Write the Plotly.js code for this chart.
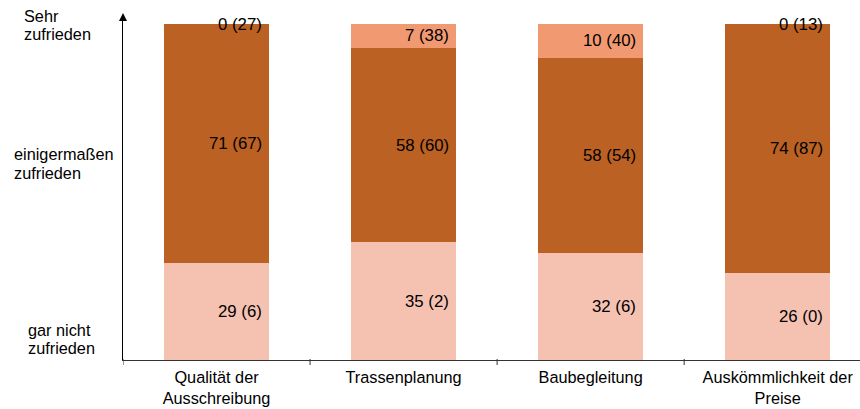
<!DOCTYPE html>
<html>
<head>
<meta charset="utf-8">
<script src="https://cdn.plot.ly/plotly-3.0.1.min.js"></script>
<style>html,body{margin:0;padding:0;background:#fff;}#chart{width:860px;height:409px;}</style>
</head>
<body>
<div id="chart"></div>
<script>
const categories = ["Qualität der<br>Ausschreibung", "Trassenplanung", "Baubegleitung", "Auskömmlichkeit der<br>Preise"];
const garNicht = [29, 35, 32, 26];
const garNichtPrev = [6, 2, 6, 0];
const einigermassen = [71, 58, 58, 74];
const einigermassenPrev = [67, 60, 54, 87];
const sehr = [0, 7, 10, 0];
const sehrPrev = [27, 38, 40, 13];

const colBottom = "#F5C2B2";
const colMid = "#BA6123";
const colTop = "#F19A72";
const FONT = "Liberation Sans, Arial, sans-serif";

const W = 860, H = 409, ML = 123, MR = 0, MT = 15, MB = 49;
const PW = W - ML - MR, PH = H - MT - MB;
const px2x = p => (p - ML) / PW;
const px2y = p => (H - MB - p) / PH;

const idx = categories.map((_, i) => i);
const traces = [
  {type: "bar", x: idx, y: garNicht, marker: {color: colBottom, line: {width: 0}}, hoverinfo: "none"},
  {type: "bar", x: idx, y: einigermassen, marker: {color: colMid, line: {width: 0}}, hoverinfo: "none"},
  {type: "bar", x: idx, y: sehr, marker: {color: colTop, line: {width: 0}}, hoverinfo: "none"}
];

const halfBar = 0.28;
const annotations = [];
idx.forEach(i => {
  const segs = [
    [garNicht[i] / 2, garNicht[i], garNichtPrev[i]],
    [garNicht[i] + einigermassen[i] / 2, einigermassen[i], einigermassenPrev[i]],
    [garNicht[i] + einigermassen[i] + sehr[i] / 2, sehr[i], sehrPrev[i]]
  ];
  segs.forEach(s => {
    annotations.push({
      x: i + halfBar, y: s[0], xref: "x", yref: "y",
      text: s[1] + " (" + s[2] + ")", showarrow: false,
      xanchor: "right", yanchor: "middle", xshift: -5,
      font: {family: FONT, size: 16.8, color: "#000"}
    });
  });
});

const yLabels = [
  ["Sehr", 22, 16], ["zufrieden", 22, 34],
  ["einigermaßen", 12, 154], ["zufrieden", 12, 173],
  ["gar nicht", 26, 330], ["zufrieden", 26, 348]
];
yLabels.forEach(l => {
  annotations.push({
    x: px2x(l[1]), y: px2y(l[2]), xref: "paper", yref: "paper",
    text: l[0], showarrow: false, xanchor: "left", yanchor: "middle",
    font: {family: FONT, size: 16.3, color: "#000"}
  });
});

const layout = {
  width: W, height: H,
  margin: {l: ML, r: MR, t: MT, b: MB, pad: 0},
  paper_bgcolor: "#fff", plot_bgcolor: "#fff",
  barmode: "stack", bargap: 0.44,
  showlegend: false,
  font: {family: FONT, size: 16, color: "#000"},
  xaxis: {
    type: "linear", range: [-0.5, 3.44],
    tickmode: "array", tickvals: idx, ticktext: categories,
    showgrid: false, zeroline: false,
    showline: true, linecolor: "#333", linewidth: 1,
    ticks: "", ticklabelstandoff: 2,
    tickfont: {family: FONT, size: 16.3, color: "#000"}
  },
  yaxis: {
    range: [0, 102.7], showgrid: false, zeroline: false,
    showline: true, linecolor: "#000", linewidth: 1,
    showticklabels: false, ticks: ""
  },
  shapes: [
    {type: "path", xref: "paper", yref: "paper",
     path: `M ${px2x(119)} ${px2y(21)} L ${px2x(127)} ${px2y(21)} L ${px2x(123)} ${px2y(13)} Z`,
     fillcolor: "#000", line: {width: 0}}
  ].concat([-0.5, 0.5, 1.5, 2.5].map(b => ({
    type: "line", xref: "x", yref: "paper", x0: b, x1: b,
    y0: px2y(359), y1: px2y(365), line: {color: "#333", width: 1}
  }))),
  annotations: annotations
};

Plotly.newPlot("chart", traces, layout, {staticPlot: true, displayModeBar: false});
</script>
</body>
</html>
